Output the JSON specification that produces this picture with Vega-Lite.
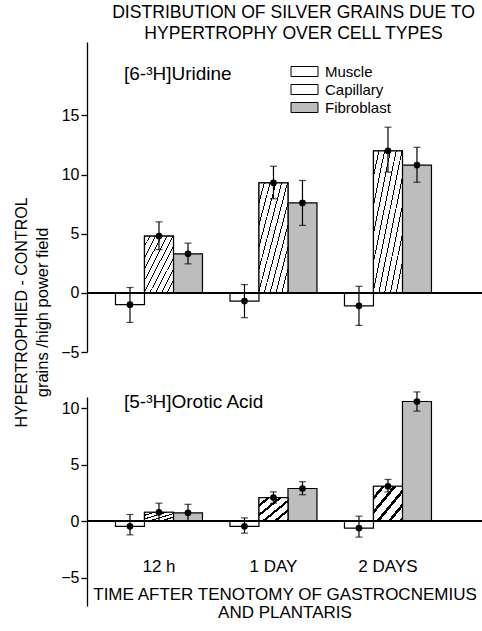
{
  "$schema": "https://vega.github.io/schema/vega-lite/v6.json",
  "padding": {"left": 14, "right": 0, "top": 4, "bottom": 0},
  "background": "white",
  "config": {
    "font": "Liberation Sans",
    "view": {"stroke": null},
    "axis": {"labelColor": "black", "domainColor": "black", "tickColor": "black", "titleColor": "black", "grid": false, "labelFont": "Liberation Sans", "titleFont": "Liberation Sans"},
    "concat": {"spacing": 31}
  },
  "datasets": {
    "uridine": [
      {"time": "12 h", "type": "Muscle", "mean": -1.0, "lo": -2.5, "hi": 0.45},
      {"time": "12 h", "type": "Capillary", "mean": 4.8, "lo": 3.65, "hi": 6.0},
      {"time": "12 h", "type": "Fibroblast", "mean": 3.3, "lo": 2.45, "hi": 4.2},
      {"time": "1 DAY", "type": "Muscle", "mean": -0.7, "lo": -2.1, "hi": 0.7},
      {"time": "1 DAY", "type": "Capillary", "mean": 9.3, "lo": 7.95, "hi": 10.7},
      {"time": "1 DAY", "type": "Fibroblast", "mean": 7.6, "lo": 5.7, "hi": 9.5},
      {"time": "2 DAYS", "type": "Muscle", "mean": -1.1, "lo": -2.75, "hi": 0.55},
      {"time": "2 DAYS", "type": "Capillary", "mean": 12.0, "lo": 10.2, "hi": 14.0},
      {"time": "2 DAYS", "type": "Fibroblast", "mean": 10.8, "lo": 9.35, "hi": 12.3}
    ],
    "orotic": [
      {"time": "12 h", "type": "Muscle", "mean": -0.45, "lo": -1.2, "hi": 0.6},
      {"time": "12 h", "type": "Capillary", "mean": 0.8, "lo": 0.05, "hi": 1.6},
      {"time": "12 h", "type": "Fibroblast", "mean": 0.75, "lo": 0.05, "hi": 1.5},
      {"time": "1 DAY", "type": "Muscle", "mean": -0.45, "lo": -1.05, "hi": 0.3},
      {"time": "1 DAY", "type": "Capillary", "mean": 2.1, "lo": 1.6, "hi": 2.6},
      {"time": "1 DAY", "type": "Fibroblast", "mean": 2.9, "lo": 2.35, "hi": 3.5},
      {"time": "2 DAYS", "type": "Muscle", "mean": -0.6, "lo": -1.4, "hi": 0.45},
      {"time": "2 DAYS", "type": "Capillary", "mean": 3.1, "lo": 2.6, "hi": 3.7},
      {"time": "2 DAYS", "type": "Fibroblast", "mean": 10.6, "lo": 9.75, "hi": 11.45}
    ]
  },
  "title": {"text": "HYPERTROPHIED - CONTROL", "subtitle": "grains /high power field", "orient": "left", "anchor": "middle", "fontSize": 16, "fontWeight": "normal", "subtitleFontSize": 16.5, "subtitleColor": "black", "color": "black", "offset": 9, "subtitlePadding": 5, "font": "Liberation Sans", "subtitleFont": "Liberation Sans"},
  "resolve": {"scale": {"y": "independent", "fill": "independent"}, "legend": {"fill": "independent"}},
  "vconcat": [
    {
      "title": {"text": ["DISTRIBUTION OF SILVER GRAINS DUE TO", "HYPERTROPHY OVER CELL TYPES"], "fontSize": 17.6, "fontWeight": "normal", "anchor": "middle", "frame": "group", "offset": -1, "dx": 9, "lineHeight": 21, "color": "black"},
      "width": 395,
      "height": 310,
      "data": {"name": "uridine"},
      "encoding": {
        "x": {"field": "time", "type": "nominal", "sort": ["12 h", "1 DAY", "2 DAYS"], "scale": {"paddingInner": 0, "paddingOuter": 0.225, "align": 0.286}, "axis": null},
        "xOffset": {"field": "type", "type": "nominal", "sort": ["Muscle", "Capillary", "Fibroblast"], "scale": {"paddingInner": 0, "paddingOuter": 0.474}}
      },
      "layer": [
        {
          "mark": {"type": "bar", "stroke": "black", "strokeWidth": 1.2},
          "encoding": {
            "y": {"field": "mean", "type": "quantitative", "scale": {"domain": [-5, 21.2], "nice": false, "zero": false}, "axis": {"values": [-5, 0, 5, 10, 15], "title": null, "labelFontSize": 16, "tickSize": 6, "labelPadding": 2, "domainWidth": 1.3, "tickWidth": 1.3}},
            "fill": {
              "field": "type", "type": "nominal", "sort": ["Muscle", "Capillary", "Fibroblast"],
              "scale": {"domain": ["Muscle", "Capillary", "Fibroblast"], "range": ["white", "white", "#bdbdbd"]},
              "legend": {"orient": "none", "legendX": 210, "legendY": 22, "title": null, "symbolType": "M-2.7,-1H2.7V1H-2.7Z", "symbolSize": 100, "symbolStrokeColor": "black", "symbolStrokeWidth": 1, "labelFontSize": 15, "labelFont": "Liberation Sans", "labelColor": "black", "labelOffset": 13, "rowPadding": 2, "padding": 0,
                "encode": {"symbols": {"update": {
                  "stroke": {"value": "black"},
                  "strokeWidth": {"value": 1},
                  "fill": [
                  {"test": "datum.value === 'Capillary'", "value": {"gradient": "linear", "x1": 0, "y1": 0, "x2": 1, "y2": 1, "stops": [
                    {"offset": 0, "color": "white"}, {"offset": 0.15, "color": "white"}, {"offset": 0.15, "color": "black"}, {"offset": 0.2, "color": "black"},
                    {"offset": 0.2, "color": "white"}, {"offset": 0.35, "color": "white"}, {"offset": 0.35, "color": "black"}, {"offset": 0.4, "color": "black"},
                    {"offset": 0.4, "color": "white"}, {"offset": 0.55, "color": "white"}, {"offset": 0.55, "color": "black"}, {"offset": 0.6, "color": "black"},
                    {"offset": 0.6, "color": "white"}, {"offset": 0.75, "color": "white"}, {"offset": 0.75, "color": "black"}, {"offset": 0.8, "color": "black"},
                    {"offset": 0.8, "color": "white"}, {"offset": 0.95, "color": "white"}, {"offset": 0.95, "color": "black"}, {"offset": 1, "color": "black"}
                  ]}},
                  {"test": "datum.value === 'Fibroblast'", "value": "#bdbdbd"},
                  {"value": "white"}
                ]}}}
              }
            }
          }
        },
        {
          "transform": [{"filter": "datum.type === 'Capillary'"}],
          "mark": {"type": "bar", "stroke": "black", "strokeWidth": 1.2, "fill": {"gradient": "linear", "x1": 0, "y1": 0, "x2": 1, "y2": 1, "stops": [
            {"offset": 0, "color": "white"}, {"offset": 0.083, "color": "white"}, {"offset": 0.083, "color": "black"}, {"offset": 0.1, "color": "black"},
            {"offset": 0.1, "color": "white"}, {"offset": 0.183, "color": "white"}, {"offset": 0.183, "color": "black"}, {"offset": 0.2, "color": "black"},
            {"offset": 0.2, "color": "white"}, {"offset": 0.283, "color": "white"}, {"offset": 0.283, "color": "black"}, {"offset": 0.3, "color": "black"},
            {"offset": 0.3, "color": "white"}, {"offset": 0.383, "color": "white"}, {"offset": 0.383, "color": "black"}, {"offset": 0.4, "color": "black"},
            {"offset": 0.4, "color": "white"}, {"offset": 0.483, "color": "white"}, {"offset": 0.483, "color": "black"}, {"offset": 0.5, "color": "black"},
            {"offset": 0.5, "color": "white"}, {"offset": 0.583, "color": "white"}, {"offset": 0.583, "color": "black"}, {"offset": 0.6, "color": "black"},
            {"offset": 0.6, "color": "white"}, {"offset": 0.683, "color": "white"}, {"offset": 0.683, "color": "black"}, {"offset": 0.7, "color": "black"},
            {"offset": 0.7, "color": "white"}, {"offset": 0.783, "color": "white"}, {"offset": 0.783, "color": "black"}, {"offset": 0.8, "color": "black"},
            {"offset": 0.8, "color": "white"}, {"offset": 0.883, "color": "white"}, {"offset": 0.883, "color": "black"}, {"offset": 0.9, "color": "black"},
            {"offset": 0.9, "color": "white"}, {"offset": 0.983, "color": "white"}, {"offset": 0.983, "color": "black"}, {"offset": 1, "color": "black"}
          ]}},
          "encoding": {"y": {"field": "mean", "type": "quantitative"}}
        },
        {
          "mark": {"type": "rule", "color": "black", "strokeWidth": 1.2},
          "encoding": {"y": {"field": "lo", "type": "quantitative"}, "y2": {"field": "hi"}}
        },
        {
          "mark": {"type": "tick", "color": "black", "size": 7, "thickness": 1.2, "orient": "horizontal"},
          "encoding": {"y": {"field": "lo", "type": "quantitative"}}
        },
        {
          "mark": {"type": "tick", "color": "black", "size": 7, "thickness": 1.2, "orient": "horizontal"},
          "encoding": {"y": {"field": "hi", "type": "quantitative"}}
        },
        {
          "mark": {"type": "point", "shape": "circle", "filled": true, "color": "black", "size": 45, "opacity": 1},
          "encoding": {"y": {"field": "mean", "type": "quantitative"}}
        },
        {
          "mark": {"type": "rule", "color": "black", "strokeWidth": 1.3},
          "encoding": {"y": {"datum": 0}, "x": null, "xOffset": null}
        },
        {
          "data": {"values": [{"label": "[6-³H]Uridine"}]},
          "mark": {"type": "text", "align": "left", "baseline": "middle", "fontSize": 19, "color": "black", "dx": -6},
          "encoding": {"x": {"datum": "12 h"}, "xOffset": {"datum": "Muscle"}, "y": {"datum": 18.5}, "text": {"field": "label"}}
        }
      ]
    },
    {
      "width": 395,
      "height": 209,
      "data": {"name": "orotic"},
      "encoding": {
        "x": {"field": "time", "type": "nominal", "sort": ["12 h", "1 DAY", "2 DAYS"], "scale": {"paddingInner": 0, "paddingOuter": 0.225, "align": 0.286},
          "axis": {"title": ["TIME AFTER TENOTOMY OF GASTROCNEMIUS", "AND PLANTARIS"], "domain": false, "ticks": false, "tickSize": 0, "labelPadding": -48, "labelFontSize": 17, "labelAngle": 0, "titleFontSize": 17, "titleFontWeight": "normal", "titleY": -19.5, "titleLineHeight": 18}},
        "xOffset": {"field": "type", "type": "nominal", "sort": ["Muscle", "Capillary", "Fibroblast"], "scale": {"paddingInner": 0, "paddingOuter": 0.474}}
      },
      "layer": [
        {
          "mark": {"type": "bar", "stroke": "black", "strokeWidth": 1.2},
          "encoding": {
            "y": {"field": "mean", "type": "quantitative", "scale": {"domain": [-7.5, 11], "nice": false, "zero": false}, "axis": {"values": [-5, 0, 5, 10], "title": null, "labelFontSize": 16, "tickSize": 6, "labelPadding": 2, "domainWidth": 1.3, "tickWidth": 1.3}},
            "fill": {
              "field": "type", "type": "nominal", "sort": ["Muscle", "Capillary", "Fibroblast"],
              "scale": {"domain": ["Muscle", "Capillary", "Fibroblast"], "range": ["white", "white", "#bdbdbd"]},
              "legend": null
            }
          }
        },
        {
          "transform": [{"filter": "datum.type === 'Capillary'"}],
          "mark": {"type": "bar", "stroke": "black", "strokeWidth": 1.2, "fill": {"gradient": "linear", "x1": 0, "y1": 0, "x2": 1, "y2": 1, "stops": [
            {"offset": 0, "color": "white"}, {"offset": 0.14, "color": "white"}, {"offset": 0.14, "color": "black"}, {"offset": 0.2, "color": "black"},
            {"offset": 0.2, "color": "white"}, {"offset": 0.34, "color": "white"}, {"offset": 0.34, "color": "black"}, {"offset": 0.4, "color": "black"},
            {"offset": 0.4, "color": "white"}, {"offset": 0.54, "color": "white"}, {"offset": 0.54, "color": "black"}, {"offset": 0.6, "color": "black"},
            {"offset": 0.6, "color": "white"}, {"offset": 0.74, "color": "white"}, {"offset": 0.74, "color": "black"}, {"offset": 0.8, "color": "black"},
            {"offset": 0.8, "color": "white"}, {"offset": 0.94, "color": "white"}, {"offset": 0.94, "color": "black"}, {"offset": 1, "color": "black"}
          ]}},
          "encoding": {"y": {"field": "mean", "type": "quantitative"}}
        },
        {
          "mark": {"type": "rule", "color": "black", "strokeWidth": 1.2},
          "encoding": {"y": {"field": "lo", "type": "quantitative"}, "y2": {"field": "hi"}}
        },
        {
          "mark": {"type": "tick", "color": "black", "size": 7, "thickness": 1.2, "orient": "horizontal"},
          "encoding": {"y": {"field": "lo", "type": "quantitative"}}
        },
        {
          "mark": {"type": "tick", "color": "black", "size": 7, "thickness": 1.2, "orient": "horizontal"},
          "encoding": {"y": {"field": "hi", "type": "quantitative"}}
        },
        {
          "mark": {"type": "point", "shape": "circle", "filled": true, "color": "black", "size": 45, "opacity": 1},
          "encoding": {"y": {"field": "mean", "type": "quantitative"}}
        },
        {
          "mark": {"type": "rule", "color": "black", "strokeWidth": 1.3},
          "encoding": {"y": {"datum": 0}, "x": null, "xOffset": null}
        },
        {
          "data": {"values": [{"label": "[5-³H]Orotic Acid"}]},
          "mark": {"type": "text", "align": "left", "baseline": "middle", "fontSize": 19, "color": "black", "dx": -6},
          "encoding": {"x": {"datum": "12 h"}, "xOffset": {"datum": "Muscle"}, "y": {"datum": 10.6}, "text": {"field": "label"}}
        }
      ]
    }
  ]
}
